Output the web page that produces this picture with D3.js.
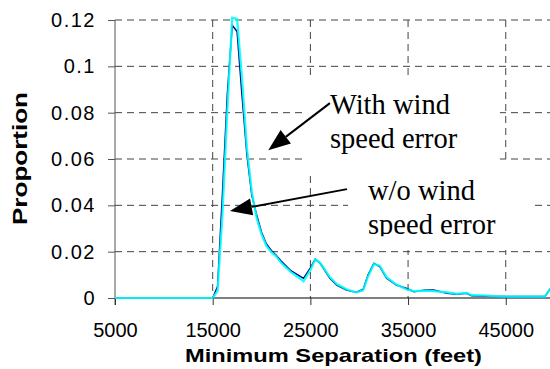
<!DOCTYPE html>
<html>
<head>
<meta charset="utf-8">
<script src="https://cdn.jsdelivr.net/npm/d3@7"></script>
<style>
  body { margin: 0; background: #fff; }
  svg { display: block; }
</style>
</head>
<body>
<svg width="550" height="369"></svg>
<script>
// minimum separation (feet) and proportion
const separation = [5000, 15000, 15500, 16000, 16500, 17000, 17500, 18000, 18500, 19000,
  19500, 20000, 20500, 21000, 21500, 22000, 23000, 24000, 24300, 25000, 25500, 26000,
  27000, 27700, 28700, 29700, 30400, 30900, 31500, 32100, 32800, 33800, 34800, 35600,
  36800, 37600, 39000, 40000, 41000, 41500, 43000, 45000, 49000, 50000];
const withWind = [0, 0, 0.005, 0.045, 0.088, 0.1177, 0.115, 0.0875, 0.062, 0.0444,
  0.0358, 0.0284, 0.0233, 0.0205, 0.0185, 0.016, 0.0118, 0.0092, 0.0085, 0.013, 0.0168, 0.015,
  0.0085, 0.0056, 0.0034, 0.0025, 0.0037, 0.0099, 0.015, 0.0135, 0.0085, 0.0056, 0.0042, 0.0027,
  0.0034, 0.0034, 0.0021, 0.0016, 0.002, 0.001, 0.0008, 0.0006, 0.0006, 0.0067];
const withoutWind = [0, 0, 0.003, 0.036, 0.081, 0.121, 0.1205, 0.095, 0.065, 0.046,
  0.0345, 0.0275, 0.0225, 0.0198, 0.018, 0.0152, 0.0112, 0.0082, 0.0072, 0.012, 0.0167, 0.0152,
  0.009, 0.006, 0.0038, 0.0024, 0.0033, 0.0092, 0.0147, 0.014, 0.009, 0.0058, 0.0038, 0.003,
  0.0032, 0.003, 0.0024, 0.0018, 0.0022, 0.0012, 0.001, 0.0006, 0.0006, 0.0067];

const xTicks = [5000, 15000, 25000, 35000, 45000];
const yTicks = [0, 0.02, 0.04, 0.06, 0.08, 0.1, 0.12];
const yTickLabels = ['0', '0.02', '0.04', '0.06', '0.08', '0.1', '0.12'];

// callouts, in data units
const notes = [
  { lines: ['With wind', 'speed error'], x: 27000, y: [0.0793, 0.0647],
    box: [24650, 44400, 0.0953, 0.0539], from: [27000, 0.0841], to: [20690, 0.0638], clip: null },
  { lines: ['w/o wind', 'speed error'], x: 30900, y: [0.0422, 0.0276],
    box: [28850, 47680, 0.0582, 0.0207], from: [28750, 0.047], to: [16770, 0.0376], clip: 0.0267 }
];

const svg = d3.select('svg');
const x = d3.scaleLinear().domain([5000, 50000]).range([115, 554.6]);
const y = d3.scaleLinear().domain([0, 0.12]).range([298, 20]);

// grid
const grid = svg.append('g');
grid.selectAll('line.h').data(yTicks.filter(d => d > 0))
  .enter().append('line')
  .attr('x1', x(5000)).attr('x2', 550)
  .attr('y1', d => y(d)).attr('y2', d => y(d));
grid.selectAll('line.v').data(xTicks.filter(d => d > 5000))
  .enter().append('line')
  .attr('x1', d => x(d)).attr('x2', d => x(d))
  .attr('y1', y(0.12)).attr('y2', y(0));
grid.selectAll('line')
  .attr('stroke', '#444')
  .attr('stroke-width', 1)
  .attr('stroke-dasharray', '7,5');

// white boxes behind the callout text
svg.append('g').selectAll('rect').data(notes)
  .enter().append('rect')
  .attr('x', d => x(d.box[0]))
  .attr('y', d => y(d.box[2]))
  .attr('width', d => x(d.box[1]) - x(d.box[0]))
  .attr('height', d => y(d.box[3]) - y(d.box[2]))
  .attr('fill', '#fff');

// axes
const yAxis = svg.append('g')
  .attr('transform', `translate(${x(5000)},0)`)
  .call(d3.axisLeft(y).tickValues(yTicks)
    .tickFormat((d, i) => yTickLabels[i])
    .tickSize(7).tickPadding(12).tickSizeOuter(0));
yAxis.select('.domain').attr('stroke', '#555').attr('d', `M0,${y(0.12)}V${y(0) + 7}`);
yAxis.selectAll('.tick line').attr('stroke', '#555');
yAxis.selectAll('text')
  .attr('font-family', 'Arial, "Liberation Sans", sans-serif')
  .attr('font-size', 20)
  .attr('letter-spacing', 1.5)
  .attr('fill', '#000');

const xAxis = svg.append('g')
  .attr('transform', `translate(0,${y(0)})`)
  .call(d3.axisBottom(x).tickValues(xTicks)
    .tickFormat(d3.format('d'))
    .tickSize(7).tickPadding(17.5).tickSizeOuter(0));
xAxis.select('.domain').attr('stroke', '#000').attr('d', `M${x(5000)},0H550`);
xAxis.selectAll('.tick line').attr('stroke', '#333');
xAxis.selectAll('text')
  .attr('font-family', 'Arial, "Liberation Sans", sans-serif')
  .attr('font-size', 20)
  .attr('fill', '#000');

// series
const line = vals => d3.line()
  .x((d, i) => x(separation[i]))
  .y(d => y(d))(vals);

svg.append('path')
  .attr('d', line(withWind))
  .attr('fill', 'none')
  .attr('stroke', '#000080')
  .attr('stroke-width', 1.5);
svg.append('path')
  .attr('d', line(withoutWind))
  .attr('fill', 'none')
  .attr('stroke', '#00ffff')
  .attr('stroke-width', 2.2)
  .attr('stroke-opacity', 0.9);

// arrows
notes.forEach(n => {
  const x0 = x(n.from[0]), y0 = y(n.from[1]);
  const x1 = x(n.to[0]), y1 = y(n.to[1]);
  const a = Math.atan2(y1 - y0, x1 - x0);
  const len = 22, half = 8.5;
  const bx = x1 - len * Math.cos(a), by = y1 - len * Math.sin(a);
  svg.append('line')
    .attr('x1', x0).attr('y1', y0).attr('x2', bx).attr('y2', by)
    .attr('stroke', '#000').attr('stroke-width', 2);
  svg.append('path')
    .attr('d', `M${x1},${y1}L${bx - half * Math.sin(a)},${by + half * Math.cos(a)}L${bx + half * Math.sin(a)},${by - half * Math.cos(a)}Z`)
    .attr('fill', '#000');
});

// callout text
notes.forEach((n, k) => {
  const g = svg.append('g');
  if (n.clip !== null) {
    svg.append('clipPath').attr('id', 'clip' + k)
      .append('rect')
      .attr('x', x(n.box[0])).attr('y', y(n.box[2]))
      .attr('width', x(n.box[1]) - x(n.box[0]))
      .attr('height', y(n.clip) - y(n.box[2]));
    g.attr('clip-path', `url(#clip${k})`);
  }
  g.selectAll('text').data(n.lines)
    .enter().append('text')
    .attr('x', x(n.x))
    .attr('y', (d, i) => y(n.y[i]))
    .attr('font-family', '"Times New Roman", "Liberation Serif", serif')
    .attr('font-size', 28.5)
    .attr('fill', '#000')
    .text(d => d);
});

// axis titles
svg.append('text')
  .attr('x', 185).attr('y', 361.5)
  .attr('font-family', 'Arial, "Liberation Sans", sans-serif')
  .attr('font-weight', 'bold')
  .attr('font-size', 18.5)
  .attr('textLength', 297)
  .attr('lengthAdjust', 'spacingAndGlyphs')
  .text('Minimum Separation (feet)');

svg.append('text')
  .attr('transform', 'translate(26.5,225) rotate(-90)')
  .attr('font-family', 'Arial, "Liberation Sans", sans-serif')
  .attr('font-weight', 'bold')
  .attr('font-size', 19.5)
  .attr('textLength', 133)
  .attr('lengthAdjust', 'spacingAndGlyphs')
  .text('Proportion');
</script>
</body>
</html>
